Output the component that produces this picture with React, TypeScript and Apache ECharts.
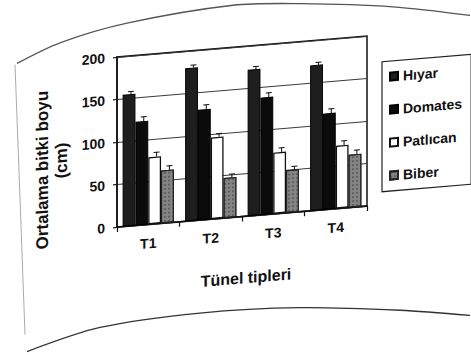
import React, { useEffect, useRef } from 'react';
import * as echarts from 'echarts';

// Tunnel types and average plant height (cm) per crop
const categories = ['T1', 'T2', 'T3', 'T4'];
const seriesNames = ['Hıyar', 'Domates', 'Patlıcan', 'Biber'];
const hiyar = [155, 180, 172, 171];
const domates = [122, 130, 138, 113];
const patlican = [79, 96, 72, 74];
const biber = [62, 47, 50, 62];
// standard errors drawn as upper error bars
const hiyarErr = [3, 3, 3, 3];
const domatesErr = [5, 5, 5, 5];
const patlicanErr = [5, 4, 5, 5];
const biberErr = [5, 4, 4, 5];
const yMin = 0;
const yMax = 200;
const yStep = 50;

const FONT = '"Liberation Sans", Arial, sans-serif';
const INK = '#111';
const CAT_GAP = 0.18;

const values = [hiyar, domates, patlican, biber];
const errors = [hiyarErr, domatesErr, patlicanErr, biberErr];

const barStyles: any[] = [
  { color: '#1e1e1e', borderColor: '#000', borderWidth: 1 },
  { color: '#0b0b0b', borderColor: '#000', borderWidth: 1 },
  { color: '#ffffff', borderColor: '#111', borderWidth: 1.3 },
  {
    color: '#858585',
    borderColor: '#222',
    borderWidth: 1,
    decal: {
      symbol: 'rect',
      symbolSize: 1,
      color: 'rgba(20,20,20,0.35)',
      dashArrayX: [2, 2],
      dashArrayY: [2, 2],
    },
  },
];

function errorSeries(idx: number) {
  return {
    type: 'custom',
    name: seriesNames[idx] + ' hata',
    z: 5,
    silent: true,
    data: categories.map((_, c) => [c, values[idx][c], errors[idx][c]]),
    renderItem: (params: any, api: any) => {
      const ci = api.value(0);
      const v = api.value(1);
      const e = api.value(2);
      const band = api.size([1, 0])[0];
      const bw = (band * (1 - CAT_GAP)) / 4;
      const cx = api.coord([ci, 0])[0] + (idx - 1.5) * bw + bw * 0.15;
      const y0 = api.coord([ci, v])[1];
      const y1 = api.coord([ci, v + e])[1];
      const st = { stroke: INK, lineWidth: 1 };
      return {
        type: 'group',
        children: [
          { type: 'line', shape: { x1: cx, y1: y0, x2: cx, y2: y1 }, style: st },
          { type: 'line', shape: { x1: cx - 3, y1: y1, x2: cx + 3, y2: y1 }, style: st },
        ],
      };
    },
  };
}

const frameStyle = (stroke: string) => ({ stroke, lineWidth: 1.3, fill: 'none' });

const option: any = {
  animation: false,
  backgroundColor: 'transparent',
  textStyle: { fontFamily: FONT },
  grid: {
    left: 117,
    right: 104,
    top: 57,
    bottom: 128,
    show: true,
    borderColor: INK,
    borderWidth: 1.5,
    backgroundColor: 'transparent',
  },
  legend: {
    orient: 'vertical',
    left: 382,
    top: 84,
    data: seriesNames,
    icon: 'rect',
    itemWidth: 8,
    itemHeight: 8,
    itemGap: 18,
    padding: [8, 9, 8, 7],
    borderColor: '#222',
    borderWidth: 1.2,
    textStyle: { fontFamily: FONT, fontWeight: 'bold', fontSize: 14, color: INK, lineHeight: 15 },
  },
  xAxis: {
    type: 'category',
    data: categories,
    name: 'Tünel tipleri',
    nameLocation: 'middle',
    nameGap: 53,
    nameTextStyle: { fontFamily: FONT, fontWeight: 'bold', fontSize: 16, color: INK, padding: [0, 0, 0, 8] },
    axisLine: { lineStyle: { color: INK, width: 1.5 } },
    axisTick: { show: true, length: 5, lineStyle: { color: INK, width: 1.2 } },
    axisLabel: { margin: 12, fontFamily: FONT, fontWeight: 'bold', fontSize: 14, color: INK },
  },
  yAxis: {
    type: 'value',
    min: yMin,
    max: yMax,
    interval: yStep,
    axisLine: { show: true, lineStyle: { color: INK, width: 1.5 } },
    axisTick: { show: true, length: 4, lineStyle: { color: INK, width: 1.2 } },
    axisLabel: { margin: 12, fontFamily: FONT, fontWeight: 'bold', fontSize: 14, color: INK },
    splitLine: { show: true, lineStyle: { color: '#3a3a3a', width: 1 } },
  },
  graphic: [
    {
      type: 'text',
      x: 43,
      y: 164,
      rotation: Math.PI / 2,
      style: {
        text: 'Ortalama bitki boyu',
        fontFamily: FONT,
        fontWeight: 'bold',
        fontSize: 17,
        fill: INK,
        align: 'center',
        verticalAlign: 'middle',
      },
    },
    {
      type: 'text',
      x: 62,
      y: 156,
      rotation: Math.PI / 2,
      style: {
        text: '(cm)',
        fontFamily: FONT,
        fontWeight: 'bold',
        fontSize: 17,
        fill: INK,
        align: 'center',
        verticalAlign: 'middle',
      },
    },
    {
      type: 'polyline',
      shape: { points: [[17, 55], [60, 38], [127, 24], [233, 15], [300, 19], [393, 30], [470, 45]], smooth: 0.3 },
      style: frameStyle('#555'),
    },
    {
      type: 'polyline',
      shape: { points: [[15, 56], [20, 190], [25, 327]] },
      style: { stroke: '#aaa', lineWidth: 1, fill: 'none' },
    },
    {
      type: 'polyline',
      shape: { points: [[27, 344], [100, 326], [200, 320], [300, 323], [400, 334], [470, 345]], smooth: 0.3 },
      style: frameStyle('#333'),
    },
  ],
  series: [
    ...seriesNames.map((name, i) => ({
      type: 'bar',
      name,
      data: values[i],
      barGap: '0%',
      barCategoryGap: CAT_GAP * 100 + '%',
      itemStyle: barStyles[i],
      z: 2,
    })),
    ...seriesNames.map((_, i) => errorSeries(i)),
  ],
};

export default function App() {
  const ref = useRef<HTMLDivElement>(null);
  useEffect(() => {
    if (!ref.current) return;
    const chart = echarts.init(ref.current, null, { renderer: 'svg' });
    chart.setOption(option);
    return () => chart.dispose();
  }, []);
  return (
    <div style={{ position: 'fixed', left: 0, top: 0, width: 471, height: 355, background: '#fff', overflow: 'hidden' }}>
      <div
        ref={ref}
        style={{
          width: 471,
          height: 355,
          transform: 'skewY(-4.8deg)',
          transformOrigin: '117px 0px',
        }}
      />
    </div>
  );
}
